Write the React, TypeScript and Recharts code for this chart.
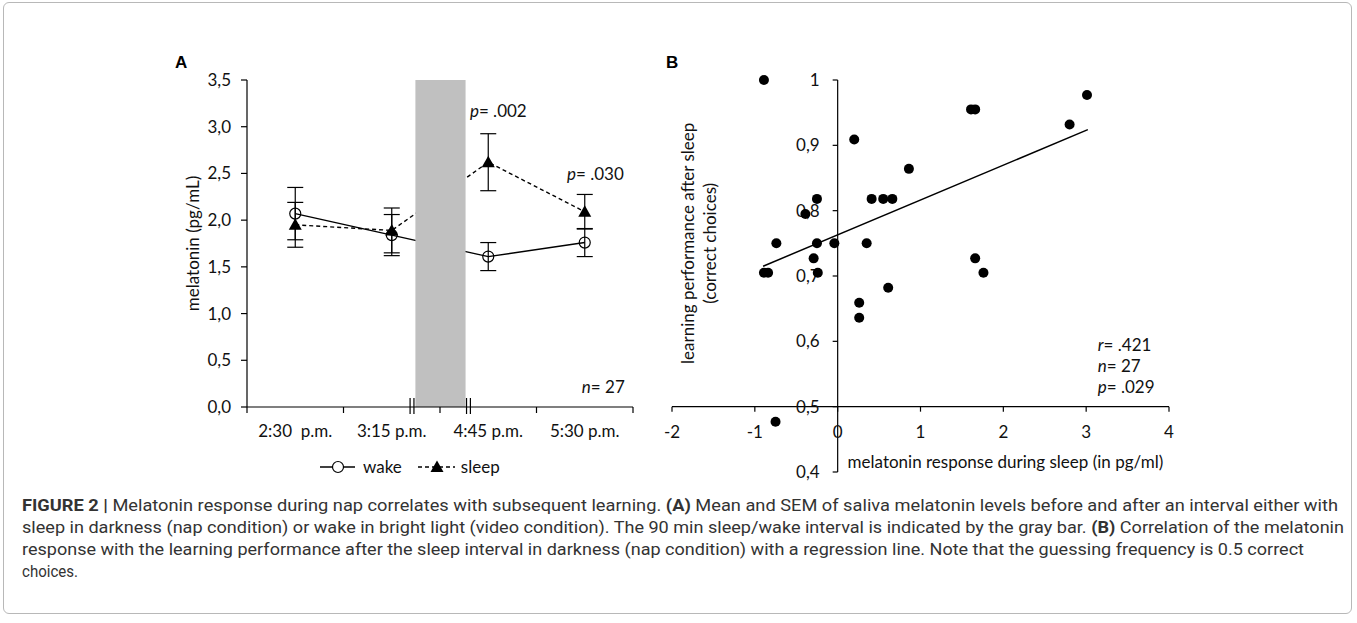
import React from 'react';
import {
  ComposedChart,
  ScatterChart,
  Line,
  Scatter,
  XAxis,
  YAxis,
  ErrorBar,
  ReferenceArea,
  ReferenceLine,
  ReferenceDot,
  Legend,
} from 'recharts';

// Panel A: melatonin over time
const timeLabels = ['2:30\u00a0 p.m.', '3:15 p.m.', '4:45 p.m.', '5:30 p.m.'];
const timePos = [0.5, 1.5, 2.5, 3.5];
const boundaryTicks = [0, 1, 2, 3, 4];
const wakeMean = [2.07, 1.84, 1.61, 1.76];
const wakeSem = [0.28, 0.22, 0.15, 0.15];
const sleepMean = [1.95, 1.89, 2.62, 2.09];
const sleepSem = [0.24, 0.24, 0.305, 0.185];
const melatoninTicks = [0, 0.5, 1, 1.5, 2, 2.5, 3, 3.5];
const napStart = 1.745;
const napEnd = 2.265;
const breakMarks = [1.69, 1.73, 2.275, 2.315];

// Panel B: melatonin response vs learning performance
const respX = [-0.89, 0.2, -0.25, -0.39, 0.41, 0.55, 0.66, -0.74, -0.25, -0.04, 0.35, -0.29, -0.89, -0.84,
  -0.24, 0.26, 0.26, 0.86, 1.66, 1.76, 0.61, 3.01, 2.8, 1.61, 1.66, -0.75];
const perfY = [1.0, 0.909, 0.818, 0.795, 0.818, 0.818, 0.818, 0.75, 0.75, 0.75, 0.75, 0.727, 0.705, 0.705,
  0.705, 0.659, 0.636, 0.864, 0.727, 0.705, 0.682, 0.977, 0.932, 0.955, 0.955, 0.477];
const regLine = [{ x: -0.9, y: 0.715 }, { x: 3.02, y: 0.924 }];
const respTicks = [-2, -1, 0, 1, 2, 3, 4];
const perfTicks = [0.4, 0.5, 0.6, 0.7, 0.8, 0.9, 1];

const captionLines: [string, boolean][][] = [
  [['FIGURE 2 |', true], [' Melatonin response during nap correlates with subsequent learning. ', false], ['(A)', true],
    [' Mean and SEM of saliva melatonin levels before and after an interval either with', false]],
  [['sleep in darkness (nap condition) or wake in bright light (video condition). The 90 min sleep/wake interval is indicated by the gray bar. ', false],
    ['(B)', true], [' Correlation of the melatonin', false]],
  [['response with the learning performance after the sleep interval in darkness (nap condition) with a regression line. Note that the guessing frequency is 0.5 correct', false]],
  [['choices.', false]],
];
const captionWidths = [1316, 1322, 1282, 56];

const FONT = 'Lato, "Open Sans", sans-serif';
const FS = 17;
const INK = '#111';

const panelA = timePos.map((pos, i) => ({
  pos,
  wake: wakeMean[i],
  wakeErr: wakeSem[i],
  sleep: sleepMean[i],
  sleepErr: sleepSem[i],
}));

const panelB = respX.map((x, i) => ({ x, y: perfY[i] }));

const fmtComma = (v: number) => v.toFixed(1).replace('.', ',');

const WakeDot = (p: any) => (
  <circle key={`w${p.index}`} cx={p.cx} cy={p.cy} r={5.5} fill="none" stroke="#000" strokeWidth={1.2} />
);

const SleepDot = (p: any) => (
  <polygon
    key={`s${p.index}`}
    points={`${p.cx},${p.cy - 6.5} ${p.cx + 6.5},${p.cy + 5} ${p.cx - 6.5},${p.cy + 5}`}
    fill="#000"
  />
);

const LegendContent = () => (
  <div style={{ display: 'flex', alignItems: 'center', fontFamily: FONT, fontSize: FS, color: INK }}>
    <svg width={36} height={16}>
      <line x1={0} y1={8} x2={35} y2={8} stroke="#000" strokeWidth={1.3} />
      <circle cx={18} cy={8} r={5.5} fill="#fff" stroke="#000" strokeWidth={1.2} />
    </svg>
    <span style={{ marginLeft: 7 }}>wake</span>
    <svg width={38} height={16} style={{ marginLeft: 16 }}>
      <line x1={0} y1={8} x2={37} y2={8} stroke="#000" strokeWidth={1.3} strokeDasharray="4 3" />
      <polygon points="19,1.5 25.5,13 12.5,13" fill="#000" />
    </svg>
    <span style={{ marginLeft: 5 }}>sleep</span>
  </div>
);

const MelatoninChart = () => (
  <ComposedChart width={500} height={400} data={panelA} margin={{ top: 20, right: 17, bottom: 23, left: 37 }}>
    <XAxis
      type="number"
      dataKey="pos"
      domain={[0, 4]}
      ticks={timePos}
      interval={0}
      tickFormatter={(v: number) => timeLabels[timePos.indexOf(v)]}
      tickLine={false}
      tickSize={6}
      tickMargin={12}
      height={30}
      axisLine={{ stroke: '#000', strokeWidth: 1.2 }}
      tick={{ fill: INK, fontSize: FS, fontFamily: FONT }}
    />
    <YAxis
      type="number"
      domain={[0, 3.5]}
      ticks={melatoninTicks}
      width={60}
      tickFormatter={fmtComma}
      tickSize={6}
      tickMargin={10}
      axisLine={{ stroke: '#000', strokeWidth: 1.2 }}
      tickLine={{ stroke: '#000', strokeWidth: 1.2 }}
      tick={{ fill: INK, fontSize: FS, fontFamily: FONT }}
      label={{
        value: 'melatonin (pg/mL)',
        angle: -90,
        position: 'insideLeft',
        offset: 6,
        style: { textAnchor: 'middle', fill: INK, fontSize: FS, fontFamily: FONT },
      }}
    />
    <Line
      dataKey="wake"
      stroke="#000"
      strokeWidth={1.4}
      dot={WakeDot}
      activeDot={false}
      isAnimationActive={false}
    >
      <ErrorBar dataKey="wakeErr" width={8} stroke="#000" strokeWidth={1.2} direction="y" />
    </Line>
    <Line
      dataKey="sleep"
      stroke="#000"
      strokeWidth={1.4}
      strokeDasharray="4 3"
      dot={SleepDot}
      activeDot={false}
      isAnimationActive={false}
    >
      <ErrorBar dataKey="sleepErr" width={8} stroke="#000" strokeWidth={1.2} direction="y" />
    </Line>
    <ReferenceArea x1={napStart} x2={napEnd} y1={0} y2={3.5} fill="#c0c0c0" fillOpacity={1} stroke="none" zIndex={450} />
    {boundaryTicks.map((t) => (
      <ReferenceDot
        key={`bt${t}`}
        x={t}
        y={0}
        shape={(p: any) => <line x1={p.cx} x2={p.cx} y1={p.cy} y2={p.cy + 6} stroke="#000" strokeWidth={1.2} />}
      />
    ))}
    {breakMarks.map((b) => (
      <ReferenceDot
        key={`bm${b}`}
        x={b}
        y={0}
        zIndex={600}
        shape={(p: any) => <line x1={p.cx} x2={p.cx} y1={p.cy - 9} y2={p.cy + 7} stroke="#000" strokeWidth={1.2} />}
      />
    ))}
    <ReferenceDot
      x={2.31}
      y={3.1}
      shape={(p: any) => (
        <text x={p.cx} y={p.cy} fill={INK} fontSize={FS} fontFamily={FONT}>
          <tspan fontStyle="italic">p</tspan>= .002
        </text>
      )}
    />
    <ReferenceDot
      x={3.316}
      y={2.43}
      shape={(p: any) => (
        <text x={p.cx} y={p.cy} fill={INK} fontSize={FS} fontFamily={FONT}>
          <tspan fontStyle="italic">p</tspan>= .030
        </text>
      )}
    />
    <ReferenceDot
      x={3.47}
      y={0.15}
      shape={(p: any) => (
        <text x={p.cx} y={p.cy} fill={INK} fontSize={FS} fontFamily={FONT}>
          <tspan fontStyle="italic">n</tspan>= 27
        </text>
      )}
    />
    <Legend
      layout="horizontal"
      verticalAlign="middle"
      align="center"
      content={LegendContent}
      wrapperStyle={{ top: 396, left: 170, width: 'auto' }}
    />
  </ComposedChart>
);

const CorrelationChart = () => (
  <ScatterChart width={540} height={430} margin={{ top: 20, right: 21, bottom: 18, left: 22 }}>
    <XAxis type="number" dataKey="x" domain={[-2, 4]} hide />
    <YAxis type="number" dataKey="y" domain={[0.4, 1]} hide />
    <ReferenceLine x={0} stroke="#000" strokeWidth={1.2} />
    <ReferenceLine y={0.5} stroke="#000" strokeWidth={1.2} />
    {perfTicks.map((t) => (
      <ReferenceDot
        key={`py${t}`}
        x={0}
        y={t}
        shape={(p: any) => (
          <g>
            <line x1={p.cx - 5} x2={p.cx} y1={p.cy} y2={p.cy} stroke="#000" strokeWidth={1.2} />
            <text x={p.cx - 18} y={p.cy} dy="0.36em" textAnchor="end" fill={INK} fontSize={FS} fontFamily={FONT}>
              {t === 1 ? '1' : fmtComma(t)}
            </text>
          </g>
        )}
      />
    ))}
    {respTicks.map((t) => (
      <ReferenceDot
        key={`rx${t}`}
        x={t}
        y={0.5}
        shape={(p: any) => (
          <g>
            <line x1={p.cx} x2={p.cx} y1={p.cy} y2={p.cy + 5} stroke="#000" strokeWidth={1.2} />
            <text x={p.cx} y={p.cy + 31} textAnchor="middle" fill={INK} fontSize={FS} fontFamily={FONT}>
              {String(t)}
            </text>
          </g>
        )}
      />
    ))}
    <ReferenceLine segment={regLine} stroke="#000" strokeWidth={1.5} />
    <Scatter
      data={panelB}
      isAnimationActive={false}
      shape={(p: any) => <circle cx={p.cx} cy={p.cy} r={5} fill="#000" />}
    />
    <ReferenceDot
      x={-1.6}
      y={0.75}
      shape={(p: any) => (
        <g fill={INK} fontSize={FS} fontFamily={FONT} textAnchor="middle">
          <text transform={`translate(${p.cx - 17},${p.cy}) rotate(-90)`} dy="0.36em">learning performance after sleep</text>
          <text transform={`translate(${p.cx + 5},${p.cy}) rotate(-90)`} dy="0.36em">(correct choices)</text>
        </g>
      )}
    />
    <ReferenceDot
      x={0.12}
      y={0.4}
      shape={(p: any) => (
        <text x={p.cx} y={p.cy - 4} fill={INK} fontSize={FS} fontFamily={FONT}>
          melatonin response during sleep (in pg/ml)
        </text>
      )}
    />
    <ReferenceDot
      x={3.14}
      y={0.585}
      shape={(p: any) => (
        <text x={p.cx} y={p.cy} fill={INK} fontSize={FS} fontFamily={FONT}>
          <tspan x={p.cx} fontStyle="italic">r</tspan><tspan>= .421</tspan>
          <tspan x={p.cx} dy={21} fontStyle="italic">n</tspan><tspan>= 27</tspan>
          <tspan x={p.cx} dy={21} fontStyle="italic">p</tspan><tspan>= .029</tspan>
        </text>
      )}
    />
  </ScatterChart>
);

export default function App() {
  return (
    <div style={{ position: 'absolute', left: 0, top: 0, width: 1357, height: 623, background: '#fff', overflow: 'hidden' }}>
      <div
        style={{
          position: 'absolute',
          left: 3,
          top: 2,
          width: 1347,
          height: 610,
          border: '1px solid #b8b8b8',
          borderRadius: 6,
        }}
      />
      <div style={{ position: 'absolute', left: 175, top: 53, font: 'bold 17px "Liberation Sans", Arial, sans-serif', color: '#000' }}>
        A
      </div>
      <div style={{ position: 'absolute', left: 666, top: 53, font: 'bold 17px "Liberation Sans", Arial, sans-serif', color: '#000' }}>
        B
      </div>
      <div style={{ position: 'absolute', left: 150, top: 60 }}>
        <MelatoninChart />
      </div>
      <div style={{ position: 'absolute', left: 650, top: 60 }}>
        <CorrelationChart />
      </div>
      <svg style={{ position: 'absolute', left: 0, top: 490 }} width={1357} height={130}>
        <g fill="#333" fontSize={17} fontFamily='"Liberation Sans Narrow", Roboto, sans-serif'>
          {captionLines.map((segs, i) => (
            <text key={i} x={22} y={21 + i * 22} textLength={captionWidths[i]} lengthAdjust="spacingAndGlyphs">
              {segs.map(([txt, bold], j) => (
                <tspan key={j} fontWeight={bold ? 'bold' : 'normal'}>
                  {txt}
                </tspan>
              ))}
            </text>
          ))}
        </g>
      </svg>
    </div>
  );
}
